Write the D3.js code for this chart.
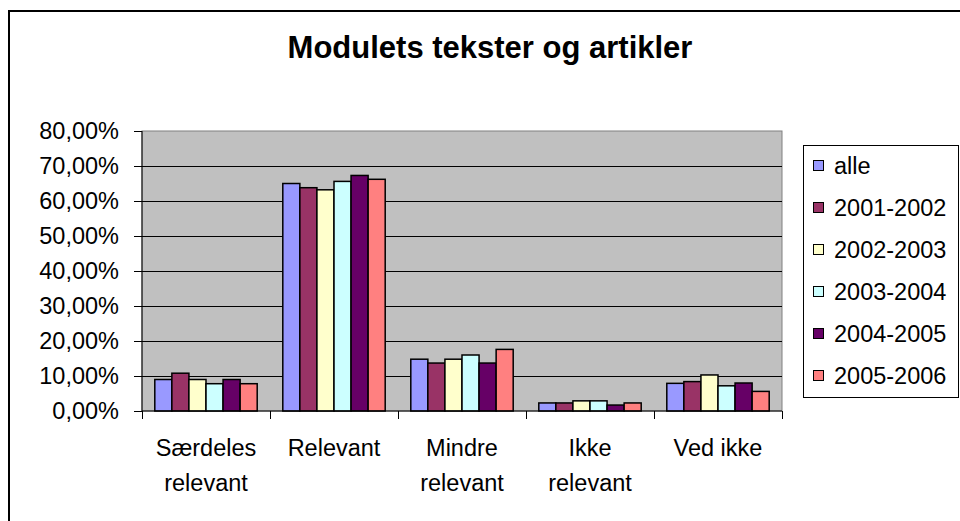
<!DOCTYPE html>
<html>
<head>
<meta charset="utf-8">
<script src="https://cdn.jsdelivr.net/npm/d3@7"></script>
<style>
  body { margin: 0; background: #fff; }
  svg { display: block; font-family: Arial, "Liberation Sans", sans-serif; }
</style>
</head>
<body>
<div id="chart"></div>
<script>
// categories (x axis) and series (legend)
const categories = [
  ["Særdeles", "relevant"],
  ["Relevant"],
  ["Mindre", "relevant"],
  ["Ikke", "relevant"],
  ["Ved ikke"],
];
const series = ["alle", "2001-2002", "2002-2003", "2003-2004", "2004-2005", "2005-2006"];
const colors = ["#9999FF", "#993366", "#FFFFCC", "#CCFFFF", "#660066", "#FF8080"];

// values per series, one per category (fraction)
const alle     = [0.090, 0.650, 0.148, 0.023, 0.079];
const y2001    = [0.108, 0.638, 0.137, 0.023, 0.084];
const y2002    = [0.090, 0.632, 0.148, 0.029, 0.103];
const y2003    = [0.078, 0.656, 0.160, 0.029, 0.072];
const y2004    = [0.090, 0.673, 0.137, 0.017, 0.080];
const y2005    = [0.078, 0.662, 0.176, 0.023, 0.056];
const values = [alle, y2001, y2002, y2003, y2004, y2005];

const yTicks = [0, 0.1, 0.2, 0.3, 0.4, 0.5, 0.6, 0.7, 0.8];

const width = 960;
const height = 521;
const plot = { left: 142, right: 782, top: 131, bottom: 411 };
const fontSize = 23.5;

const locale = d3.formatLocale({ decimal: ",", thousands: ".", grouping: [3], currency: ["", " kr"], percent: "%" });
const fmt = locale.format(".2%");

const svg = d3.select("#chart")
  .append("svg")
  .attr("width", width)
  .attr("height", height)
  .attr("viewBox", [0, 0, width, height]);

// outer chart border (runs off the picture at right and bottom)
svg.append("rect")
  .attr("x", 9).attr("y", 11)
  .attr("width", 1000).attr("height", 600)
  .attr("fill", "#fff")
  .attr("stroke", "#000")
  .attr("stroke-width", 2);

svg.append("text")
  .attr("x", 490)
  .attr("y", 58)
  .attr("text-anchor", "middle")
  .attr("font-weight", "bold")
  .attr("font-size", 31)
  .text("Modulets tekster og artikler");

const x0 = d3.scaleBand()
  .domain(d3.range(categories.length))
  .range([plot.left, plot.right]);

const x1 = d3.scaleBand()
  .domain(series)
  .range([0, x0.bandwidth()])
  .paddingInner(0)
  .paddingOuter(0.75);

const y = d3.scaleLinear()
  .domain([0, 0.8])
  .range([plot.bottom, plot.top]);

// plot area
svg.append("rect")
  .attr("x", plot.left).attr("y", plot.top)
  .attr("width", plot.right - plot.left)
  .attr("height", plot.bottom - plot.top)
  .attr("fill", "#C0C0C0")
  .attr("stroke", "#808080")
  .attr("stroke-width", 1);

// gridlines
svg.append("g")
  .selectAll("line")
  .data(yTicks.slice(1, -1))
  .join("line")
  .attr("x1", plot.left).attr("x2", plot.right)
  .attr("y1", (d) => Math.round(y(d)) + 0.5)
  .attr("y2", (d) => Math.round(y(d)) + 0.5)
  .attr("stroke", "#000");

// bars
svg.append("g")
  .selectAll("g")
  .data(series)
  .join("g")
  .attr("fill", (d, i) => colors[i])
  .selectAll("rect")
  .data((s, i) => values[i].map((v, c) => ({ s, v, c })))
  .join("rect")
  .attr("x", (d) => x0(d.c) + x1(d.s))
  .attr("y", (d) => y(d.v))
  .attr("width", x1.bandwidth())
  .attr("height", (d) => y(0) - y(d.v))
  .attr("stroke", "#000")
  .attr("stroke-width", 1.5);

// y axis
const yAxis = svg.append("g")
  .attr("transform", `translate(${plot.left},0)`)
  .call(d3.axisLeft(y).tickValues(yTicks).tickFormat(fmt).tickSize(8).tickPadding(15));
yAxis.selectAll("text").attr("font-size", fontSize).attr("fill", "#000").attr("font-family", null);
yAxis.selectAll("line, path").attr("stroke", "#000");
yAxis.select(".domain").attr("d", `M0,${plot.top}V${plot.bottom}`);

// x axis
const xAxis = svg.append("g")
  .attr("transform", `translate(0,${plot.bottom})`);
xAxis.append("line")
  .attr("x1", plot.left).attr("x2", plot.right)
  .attr("stroke", "#000");
xAxis.selectAll(".tick")
  .data(d3.range(categories.length + 1))
  .join("line")
  .attr("x1", (d) => (d < categories.length ? x0(d) : plot.right) + 0.5)
  .attr("x2", (d) => (d < categories.length ? x0(d) : plot.right) + 0.5)
  .attr("y1", 0).attr("y2", 8)
  .attr("stroke", "#000");
const labels = xAxis.selectAll("text")
  .data(categories)
  .join("text")
  .attr("text-anchor", "middle")
  .attr("font-size", fontSize)
  .attr("transform", (d, i) => `translate(${x0(i) + x0.bandwidth() / 2},45)`);
labels.selectAll("tspan")
  .data((d) => d)
  .join("tspan")
  .attr("x", 0)
  .attr("dy", (d, i) => (i === 0 ? 0 : 35))
  .text((d) => d);

// legend
const legend = svg.append("g");
legend.append("rect")
  .attr("x", 803.5).attr("y", 145.5)
  .attr("width", 155).attr("height", 252)
  .attr("fill", "#fff")
  .attr("stroke", "#000");
const item = legend.selectAll("g")
  .data(series)
  .join("g")
  .attr("transform", (d, i) => `translate(813,${166 + i * 42})`);
item.append("rect")
  .attr("x", 0.5).attr("y", -5.5)
  .attr("width", 10).attr("height", 10)
  .attr("fill", (d, i) => colors[i])
  .attr("stroke", "#000");
item.append("text")
  .attr("x", 21)
  .attr("dy", "0.35em")
  .attr("font-size", fontSize)
  .text((d) => d);
</script>
</body>
</html>
